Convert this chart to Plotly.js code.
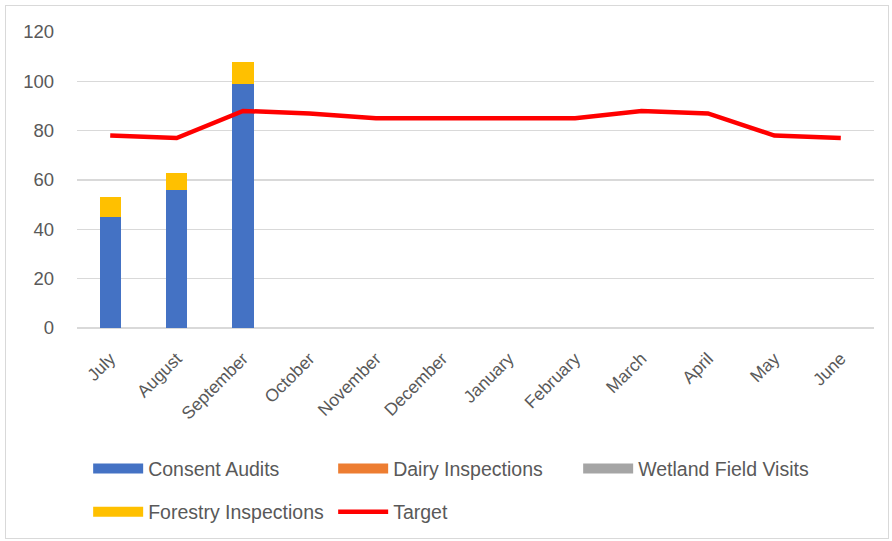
<!DOCTYPE html>
<html>
<head>
<meta charset="utf-8">
<script src="https://cdn.plot.ly/plotly-3.0.1.min.js"></script>
<style>
  html, body { margin: 0; padding: 0; background: #ffffff; }
  #wrap { position: relative; width: 892px; height: 541px; }
  #chart { position: absolute; left: 0; top: 0; width: 892px; height: 541px; }
  #frame { position: absolute; left: 5px; top: 5px; width: 882px; height: 532px;
           border: 1px solid #d9d9d9; pointer-events: none; }
</style>
</head>
<body>
<div id="wrap">
  <div id="chart"></div>
  <div id="frame"></div>
</div>
<script>
const months = ["July", "August", "September", "October", "November", "December",
                "January", "February", "March", "April", "May", "June"];
const consentAudits = [45, 56, 99, null, null, null, null, null, null, null, null, null];
const dairyInspections = [0, 0, 0, null, null, null, null, null, null, null, null, null];
const wetlandFieldVisits = [0, 0, 0, null, null, null, null, null, null, null, null, null];
const forestryInspections = [8, 7, 9, null, null, null, null, null, null, null, null, null];
const target = [78, 77, 88, 87, 85, 85, 85, 85, 88, 87, 78, 77];
const yTicks = [0, 20, 40, 60, 80, 100, 120];

const FONT = "Liberation Sans, Arial, sans-serif";
const GREY = "#595959";
const COLORS = {
  consent: "#4472c4", dairy: "#ed7d31", wetland: "#a5a5a5",
  forestry: "#ffc000", target: "#ff0000"
};

const bar = (name, y, color) => ({
  type: "bar", name: name, x: months, y: y, showlegend: false,
  marker: { color: color, line: { width: 0 } },
  hoverinfo: "skip"
});

// legend-only entries (wide Excel-style swatches)
const key = (name, color, width, legend) => ({
  type: "scatter", mode: "lines", name: name, x: [null], y: [null],
  legend: legend, line: { color: color, width: width }, hoverinfo: "skip"
});

const traces = [
  bar("Consent Audits", consentAudits, COLORS.consent),
  bar("Dairy Inspections", dairyInspections, COLORS.dairy),
  bar("Wetland Field Visits", wetlandFieldVisits, COLORS.wetland),
  bar("Forestry Inspections", forestryInspections, COLORS.forestry),
  {
    type: "scatter", mode: "lines", name: "Target", x: months, y: target,
    showlegend: false,
    line: { color: COLORS.target, width: 4.5 },
    hoverinfo: "skip"
  },
  key("Consent Audits", COLORS.consent, 12, "legend"),
  key("Dairy Inspections", COLORS.dairy, 12, "legend"),
  key("Wetland Field Visits", COLORS.wetland, 12, "legend"),
  key("Forestry Inspections", COLORS.forestry, 12, "legend2"),
  key("Target", COLORS.target, 4.5, "legend2")
];

const legendBase = {
  orientation: "h", xanchor: "left", yanchor: "middle",
  font: { family: FONT, size: 19.5, color: GREY },
  bgcolor: "rgba(0,0,0,0)", borderwidth: 0,
  itemwidth: 50,
  entrywidth: 180, entrywidthmode: "pixels", traceorder: "normal",
  itemclick: false, itemdoubleclick: false
};

const layout = {
  width: 892, height: 541,
  margin: { l: 77, r: 18, t: 32, b: 213, autoexpand: false },
  paper_bgcolor: "#ffffff", plot_bgcolor: "#ffffff",
  barmode: "stack", bargap: 0.68,
  font: { family: FONT, color: GREY },
  xaxis: {
    type: "category", tickangle: -45, automargin: false,
    tickfont: { family: FONT, size: 17.5, color: GREY },
    showgrid: false, zeroline: false, showline: false, ticks: "",
    ticklabelstandoff: 16, fixedrange: true
  },
  yaxis: {
    range: [0, 120], tickvals: yTicks, ticktext: yTicks.map(String),
    automargin: false,
    tickfont: { family: FONT, size: 18.5, color: GREY },
    showgrid: true, gridcolor: "#d9d9d9", gridwidth: 1.2,
    zeroline: true, zerolinecolor: "#d9d9d9", zerolinewidth: 1.2,
    showline: false, ticks: "", ticklabelstandoff: 22, fixedrange: true
  },
  legend: Object.assign({}, legendBase, { x: 0.014, y: -0.476 }),
  legend2: Object.assign({}, legendBase, { x: 0.014, y: -0.622 }),
  showlegend: true
};

Plotly.newPlot("chart", traces, layout, { displayModeBar: false, staticPlot: true });
</script>
</body>
</html>
